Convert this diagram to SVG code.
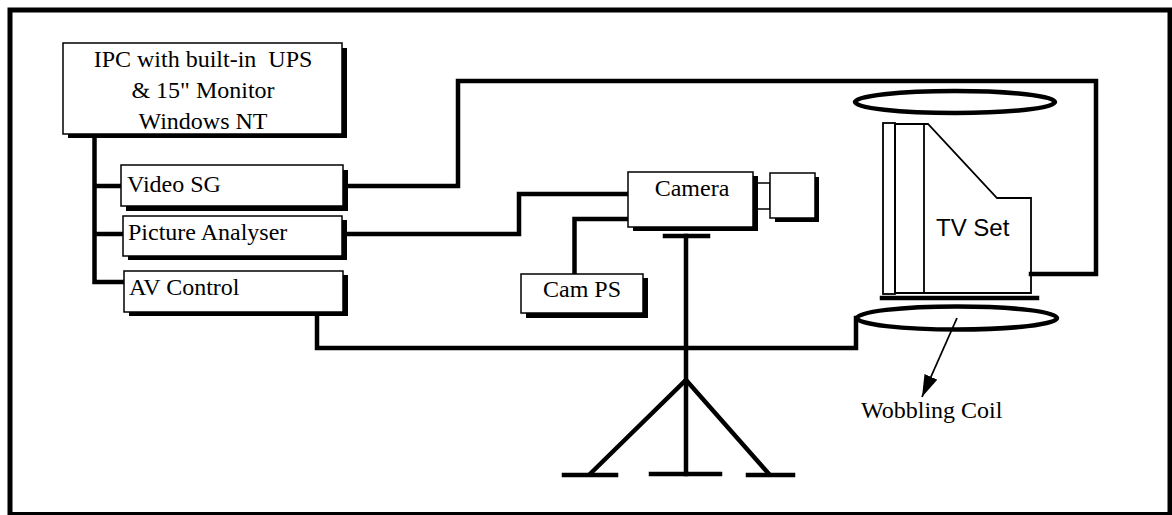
<svg xmlns="http://www.w3.org/2000/svg" width="1172" height="515" viewBox="0 0 1172 515">
<style>
.box{fill:#fff;stroke:#000;stroke-width:1.5}
.shadow{fill:#000}
.t{font-family:"Liberation Serif","Times New Roman",serif;font-size:24px;fill:#000;white-space:pre}
.sans{font-family:"Liberation Sans",Arial,sans-serif;font-size:24px;fill:#000}
.wire{fill:none;stroke:#000;stroke-width:4.5;stroke-linejoin:miter;stroke-linecap:square}
.thin{fill:none;stroke:#000;stroke-width:1.8}
.coil{fill:none;stroke:#000;stroke-width:4.5}
</style>
<defs>
<marker id="arr" markerUnits="userSpaceOnUse" markerWidth="22" markerHeight="14" refX="22" refY="7" orient="auto" viewBox="0 0 22 14">
<path d="M0 0 L22 7 L0 14 Z" fill="#000"/>
</marker>
</defs>
<rect x="0" y="0" width="1172" height="515" fill="#fff"/>
<rect x="10" y="10" width="1160" height="504.5" fill="none" stroke="#000" stroke-width="5"/>

<g id="connectors">
<path class="wire" d="M94.5 134 V282 H124"/>
<path class="wire" d="M97 186 H121"/>
<path class="wire" d="M97 234 H123"/>
<path class="wire" d="M348 186 H458 V81 H1096 V274 H1031"/>
<path class="wire" d="M347 234 H519 V194 H628"/>
<path class="wire" d="M628 219 H574.5 V274"/>
<path class="wire" d="M317 316 V348 H856 V318"/>
<path class="thin" d="M957 318 L922 397" marker-end="url(#arr)"/>
</g>

<g id="ipc">
<rect class="shadow" x="68" y="48" width="279" height="90"/>
<rect class="box" x="63" y="43" width="279" height="91"/>
<text class="t" x="203" y="67" text-anchor="middle">IPC with built-in  UPS</text>
<text class="t" x="203" y="98" text-anchor="middle">&amp; 15" Monitor</text>
<text class="t" x="203" y="129" text-anchor="middle">Windows NT</text>
</g>

<g id="video-sg">
<rect class="shadow" x="126" y="170" width="222" height="41"/>
<rect class="box" x="121" y="165" width="222" height="41"/>
<text class="t" x="127" y="192">Video SG</text>
</g>

<g id="picture-analyser">
<rect class="shadow" x="128" y="220" width="219" height="40"/>
<rect class="box" x="123" y="216" width="219" height="40"/>
<text class="t" x="128" y="240">Picture Analyser</text>
</g>

<g id="av-control">
<rect class="shadow" x="129" y="275" width="219" height="41"/>
<rect class="box" x="124" y="271" width="219" height="41"/>
<text class="t" x="129" y="295">AV Control</text>
</g>

<g id="camera">
<rect class="box" x="757" y="183" width="13" height="26"/>
<rect class="shadow" x="633" y="176" width="125" height="55"/>
<rect class="box" x="628" y="172" width="125" height="55"/>
<text class="t" x="692" y="196" text-anchor="middle">Camera</text>
<rect class="shadow" x="775" y="177" width="44" height="45"/>
<rect class="box" x="770" y="173" width="45" height="45"/>
</g>

<g id="cam-ps">
<rect class="shadow" x="526" y="278" width="122" height="40"/>
<rect class="box" x="521" y="274" width="122" height="39"/>
<text class="t" x="582" y="297" text-anchor="middle">Cam PS</text>
</g>

<g id="tripod">
<path class="wire" d="M665 236 H708" stroke-linecap="butt"/>
<path class="wire" d="M686 236 V474" stroke-linecap="butt"/>
<path class="wire" d="M686 380 L590 474 M686 380 L769 474" stroke-linecap="butt"/>
<path class="wire" d="M564 475 H616 M651 474 H720 M748 475 H793" stroke-linecap="butt"/>
</g>

<g id="tv-set">
<rect class="thin" x="883" y="123" width="12" height="171"/>
<path class="thin" d="M895 124 H928 L997 198 H1031 V293 H895 Z"/>
<path class="thin" d="M924 124 V293"/>
<path class="wire" d="M882 298 H1037" stroke-linecap="butt"/>
<text class="sans" x="936" y="236">TV Set</text>
</g>

<g id="coil-top">
<ellipse class="coil" cx="955" cy="102" rx="100" ry="11"/>
</g>

<g id="wobbling-coil">
<ellipse class="coil" cx="957" cy="318" rx="100" ry="11.5"/>
<text class="t" x="861" y="418">Wobbling Coil</text>
</g>
</svg>
